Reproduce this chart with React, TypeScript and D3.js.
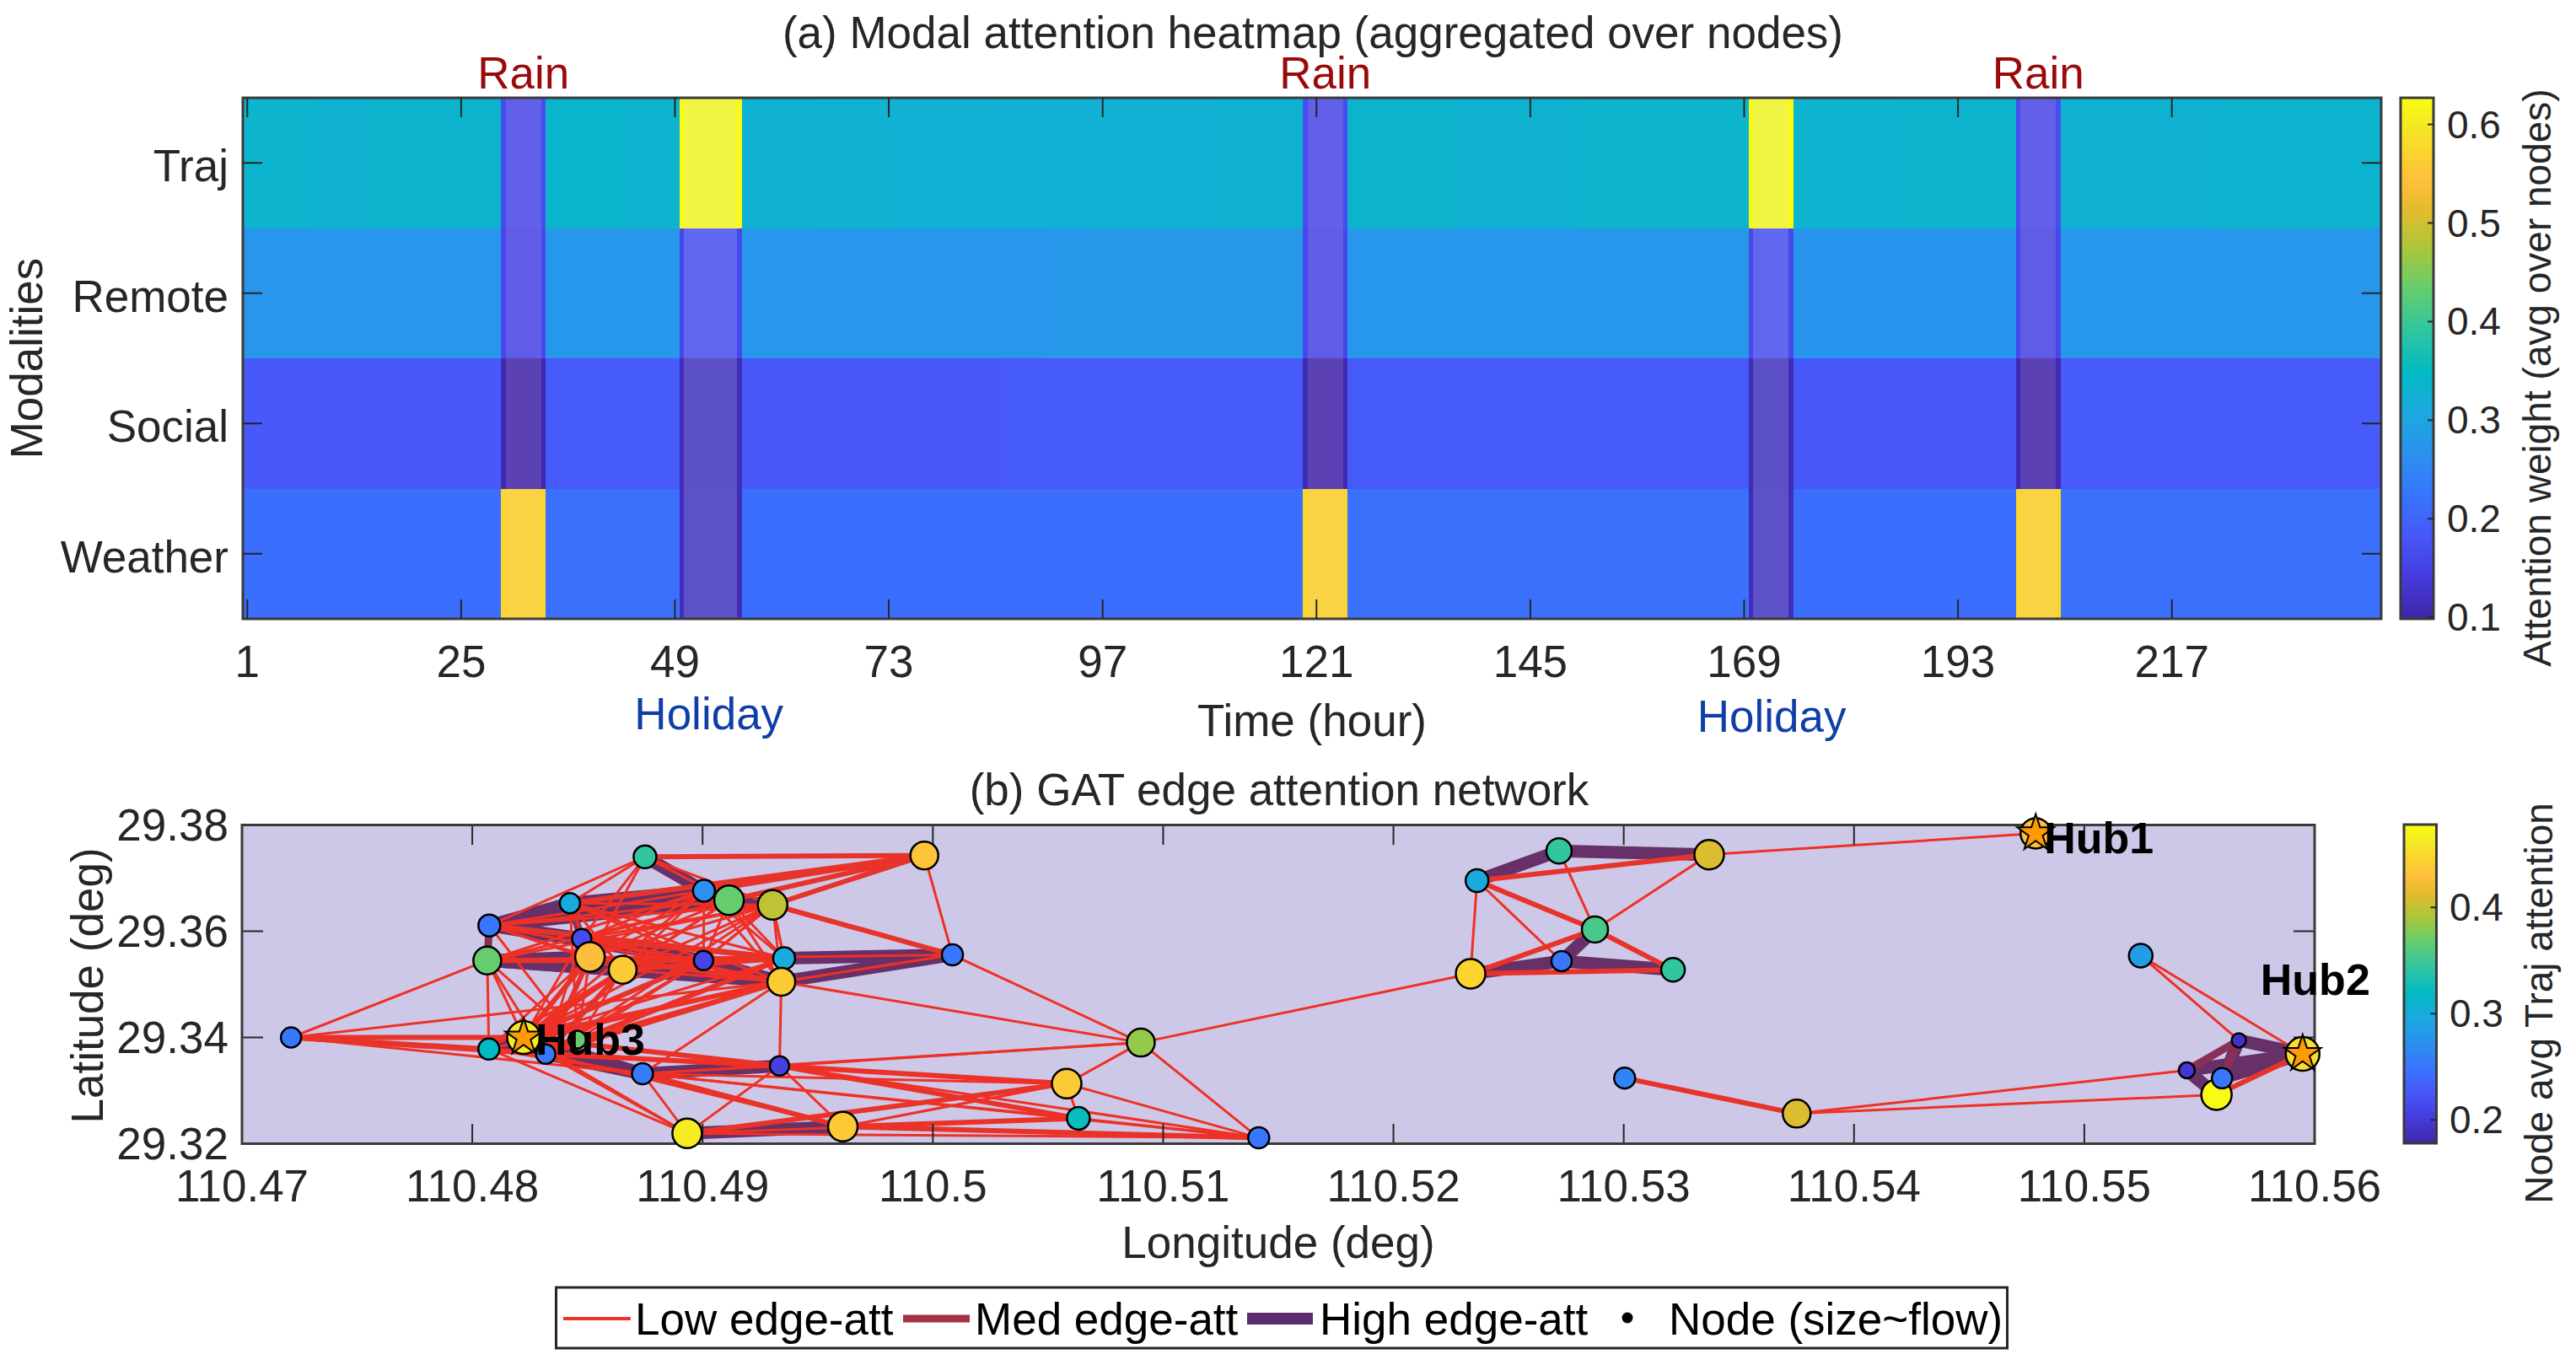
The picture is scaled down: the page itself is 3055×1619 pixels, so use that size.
import React from "react";
import * as d3 from "d3";

const modalities = ["Traj", "Remote", "Social", "Weather"];
const hourTicks = [1, 25, 49, 73, 97, 121, 145, 169, 193, 217];
const heatTicks = [0.1, 0.2, 0.3, 0.4, 0.5, 0.6];
const nodeCbTicks = [0.2, 0.3, 0.4];
const lonTicks = [110.47, 110.48, 110.49, 110.5, 110.51, 110.52, 110.53, 110.54, 110.55, 110.56];
const latTicks = [29.32, 29.34, 29.36, 29.38];
const rainSpans = [[30, 34], [120, 124], [200, 204]];
const holidaySpans = [[50, 56], [170, 174]];
// runs: [firstHour, lastHour, attention]
const trajRuns = [[1, 8, 0.334], [9, 14, 0.33], [15, 29, 0.336], [30, 34, 0.167], [35, 42, 0.337], [43, 49, 0.333], [50, 56, 0.627], [57, 64, 0.331], [65, 72, 0.329], [73, 84, 0.327], [85, 96, 0.325], [97, 110, 0.327], [111, 119, 0.33], [120, 124, 0.167], [125, 136, 0.336], [137, 150, 0.33], [151, 169, 0.334], [170, 174, 0.627], [175, 186, 0.332], [187, 199, 0.336], [200, 204, 0.167], [205, 222, 0.33], [223, 240, 0.333]];
const remoteRuns = [[1, 29, 0.274], [30, 34, 0.16], [35, 49, 0.276], [50, 56, 0.16], [57, 90, 0.274], [91, 119, 0.278], [120, 124, 0.16], [125, 169, 0.276], [170, 174, 0.16], [175, 199, 0.272], [200, 204, 0.16], [205, 240, 0.276]];
const socialRuns = [[1, 29, 0.183], [30, 34, 0.105], [35, 49, 0.186], [50, 56, 0.11], [57, 85, 0.184], [86, 119, 0.186], [120, 124, 0.105], [125, 169, 0.186], [170, 174, 0.11], [175, 199, 0.184], [200, 204, 0.105], [205, 240, 0.186]];
const weatherRuns = [[1, 29, 0.214], [30, 34, 0.575], [35, 49, 0.216], [50, 56, 0.112], [57, 119, 0.214], [120, 124, 0.575], [125, 169, 0.216], [170, 174, 0.112], [175, 199, 0.214], [200, 204, 0.575], [205, 240, 0.216]];

const nodeLon = [0, 110.47213, 110.48065, 110.48074, 110.48424, 110.48475, 110.48511, 110.48653, 110.4875, 110.49006, 110.49115, 110.49304, 110.49963, 110.49004, 110.49354, 110.49342, 110.50085, 110.48072, 110.48223, 110.48319, 110.48456, 110.48739, 110.49334, 110.48933, 110.49609, 110.50581, 110.50632, 110.50903, 110.51415, 110.52335, 110.52363, 110.52719, 110.53371, 110.52875, 110.5273, 110.53214, 110.54789, 110.55245, 110.55671, 110.55445, 110.55598, 110.55574, 110.55948, 110.53004, 110.53751];
const nodeLat = [0, 29.34, 29.35449, 29.36108, 29.36528, 29.35862, 29.35517, 29.35273, 29.374, 29.36762, 29.36582, 29.36496, 29.37426, 29.35449, 29.35491, 29.35049, 29.35555, 29.33782, 29.34, 29.33688, 29.3396, 29.33317, 29.33464, 29.32193, 29.32321, 29.3313, 29.32477, 29.33903, 29.3211, 29.35198, 29.36952, 29.37512, 29.37442, 29.36033, 29.35437, 29.35273, 29.37842, 29.35539, 29.33946, 29.33381, 29.33233, 29.32921, 29.3369, 29.33236, 29.32566];
const nodeAtt = [0, 0.25, 0.369, 0.25, 0.299, 0.216, 0.43, 0.44, 0.345, 0.272, 0.369, 0.4, 0.435, 0.21, 0.3, 0.44, 0.25, 0.321, 0.465, 0.254, 0.369, 0.255, 0.205, 0.465, 0.44, 0.44, 0.325, 0.385, 0.25, 0.447, 0.3, 0.345, 0.412, 0.355, 0.25, 0.345, 0.43, 0.285, 0.19, 0.195, 0.25, 0.477, 0.455, 0.262, 0.412];
const nodeFlow = [0, 0.35, 0.8, 0.45, 0.35, 0.3, 0.9, 0.8, 0.5, 0.45, 0.9, 0.9, 0.8, 0.3, 0.45, 0.8, 0.4, 0.4, 1.1, 0.3, 0.2, 0.4, 0.3, 0.9, 0.9, 0.9, 0.5, 0.8, 0.4, 0.9, 0.5, 0.65, 0.9, 0.7, 0.35, 0.55, 0.95, 0.55, 0.0, 0.1, 0.35, 0.95, 1.15, 0.4, 0.8];
const drawOrder = [1, 2, 3, 4, 5, 6, 7, 8, 9, 10, 11, 12, 13, 14, 15, 16, 17, 18, 19, 20, 21, 22, 23, 24, 25, 26, 27, 28, 29, 30, 31, 32, 33, 34, 35, 36, 37, 38, 39, 41, 40, 42, 43, 44];
const hubs = [{ node: 36, label: "Hub1" }, { node: 42, label: "Hub2" }, { node: 18, label: "Hub3" }];

const highEdges = [[30, 31], [31, 32], [29, 34], [34, 35], [33, 34], [38, 42], [39, 42], [39, 41], [40, 42], [38, 41], [3, 4], [3, 10], [4, 10], [4, 9], [8, 9], [10, 11], [2, 6], [2, 7], [2, 15], [6, 7], [7, 13], [13, 15], [3, 5], [14, 16], [15, 16], [17, 18], [18, 19], [19, 21], [21, 22], [23, 24], [18, 21], [3, 13], [4, 11]];
const medEdges = [[38, 39], [38, 40], [4, 5], [2, 3]];
const lowThick = [[8, 12], [9, 12], [10, 12], [11, 12], [4, 12], [11, 16], [21, 24], [30, 32], [30, 33], [29, 33], [33, 35], [29, 35], [41, 42], [43, 44], [1, 18], [1, 17], [1, 19], [24, 28], [22, 25], [22, 26], [23, 25], [24, 26], [18, 22], [19, 22], [2, 13], [2, 14], [3, 14], [6, 15], [7, 14], [5, 14], [15, 18], [15, 19], [14, 19], [7, 18], [6, 18], [6, 19], [7, 19], [13, 18]];
const lowFans = [
  [8, [10, 11, 4, 3, 5, 6]], [11, [14, 13, 15]], [12, [16]], [16, [15, 27]],
  [1, [2, 15, 21]],
  [2, [18, 17, 19, 20, 9, 10, 11, 16]],
  [3, [9, 10, 11, 15, 7, 6]],
  [4, [11, 13, 14, 15, 7, 6]],
  [5, [9, 10, 11, 13, 15, 7]],
  [6, [9, 10, 11, 13, 14]],
  [7, [9, 10, 11, 15]],
  [13, [9, 10, 11, 14]],
  [14, [9, 10, 11, 15]],
  [15, [9, 10, 21, 22, 27, 20, 17]],
  [18, [5, 14, 9, 10, 11, 23]],
  [19, [5, 13, 11, 23, 24, 25]],
  [20, [6, 7, 13, 14, 3, 4]],
  [17, [6, 7, 23, 21, 22]],
  [21, [22, 23, 25, 26, 28, 27]],
  [22, [23, 24, 28, 27]],
  [23, [26, 28]], [24, [25]], [25, [26, 27, 28]], [26, [28]], [27, [28, 29]],
  [31, [33]], [30, [34, 29]], [32, [33, 36]], [37, [38, 42]], [44, [39, 41]],
];

const parulaStops = ["#3e26a8", "#463cde", "#4758f8", "#3875fe", "#2b91ef", "#1ca9df", "#02bac3", "#31c69f", "#64cd6f", "#abc739", "#e6bb2d", "#febe3c", "#fad62d", "#f5e924", "#f9fb15"];
const parulaPos = [0, 5, 10, 15, 20, 25, 30, 35, 40, 45, 50, 53, 57, 60, 63].map((d) => d / 63);
const parula = d3.scaleLinear<string>().domain(parulaPos).range(parulaStops).interpolate(d3.interpolateRgb).clamp(true);

const FONT = "'Liberation Sans', Arial, sans-serif";
const FS = 53;
const CB_FS = 46;
const INK = "#262626";

function Box({ x0, x1, y0, y1 }: any) {
  return <rect x={x0} y={y0} width={x1 - x0} height={y1 - y0} fill="none" stroke="#3a3a3a" strokeWidth={3} />;
}

function Colorbar({ x0, x1, y0, y1, domain, ticks, fmt, labelX, titleX, titleY, title }: any) {
  const y = d3.scaleLinear().domain(domain).range([y1, y0]);
  const n = 128;
  return (
    <g>
      {d3.range(n).map((i) => {
        const t = i / (n - 1);
        const h = (y1 - y0) / n;
        return <rect key={i} x={x0} y={y1 - (i + 1) * h} width={x1 - x0} height={h + 0.8} fill={parula(t)} />;
      })}
      <Box x0={x0} x1={x1} y0={y0} y1={y1} />
      {ticks.map((t: number) => (
        <g key={t}>
          <line x1={x1 - 7} x2={x1} y1={y(t)} y2={y(t)} stroke={INK} strokeWidth={2} />
          <text x={labelX} y={y(t) + 16} fontSize={CB_FS} fill={INK}>{fmt(t)}</text>
        </g>
      ))}
      <text transform={`translate(${titleX},${titleY}) rotate(-90)`} textAnchor="middle" fontSize={CB_FS} fill={INK}>{title}</text>
    </g>
  );
}

export default function App() {
  // panel (a)
  const hx = d3.scaleLinear().domain([0.5, 240.5]).range([288, 2824]);
  const hy = d3.scaleBand<string>().domain(modalities).range([116, 734]);
  const heatColor = d3.scaleLinear().domain([0.098, 0.627]).range([0, 1]);
  const allRuns = [trajRuns, remoteRuns, socialRuns, weatherRuns];
  // panel (b)
  const nx = d3.scaleLinear().domain([110.47, 110.56]).range([287, 2745]);
  const ny = d3.scaleLinear().domain([29.32, 29.38]).range([1356.5, 978.5]);
  const radius = d3.scaleLinear().domain([0, 1]).range([8.5, 18.5]);
  const nodeColor = d3.scaleLinear().domain([0.178, 0.478]).range([0, 1]);
  const lowEdges: number[][] = [];
  lowFans.forEach(([a, list]: any) => list.forEach((b: number) => lowEdges.push([a, b])));
  const edgeLine = (e: number[], key: string, stroke: string, w: number) => (
    <line key={key} x1={nx(nodeLon[e[0]])} y1={ny(nodeLat[e[0]])} x2={nx(nodeLon[e[1]])} y2={ny(nodeLat[e[1]])} stroke={stroke} strokeWidth={w} />
  );
  const star = d3.symbol().type(d3.symbolStar).size(590)();
  const hubOffsets: any = { Hub1: [10, 24], Hub2: [-50, -70], Hub3: [14, 20] };

  return (
    <svg width={3055} height={1619} style={{ position: "absolute", left: 0, top: 0, background: "#fff" }} fontFamily={FONT}>
      {/* panel (a) */}
      <text x={1557} y={57} textAnchor="middle" fontSize={FS} fill={INK}>(a) Modal attention heatmap (aggregated over nodes)</text>
      <g shapeRendering="crispEdges">
        {modalities.map((m, r) =>
          allRuns[r].map((run, k) => (
            <rect key={m + k} x={hx(run[0] - 0.5)} y={hy(m)} width={hx(run[1] + 0.5) - hx(run[0] - 0.5) + 0.5} height={hy.bandwidth() + 0.5} fill={parula(heatColor(run[2]))} />
          ))
        )}
        {rainSpans.map((s, i) => (
          <rect key={i} x={hx(s[0])} y={116} width={hx(s[1]) - hx(s[0])} height={618} fill="rgb(255,200,200)" fillOpacity={0.15} />
        ))}
        {holidaySpans.map((s, i) => (
          <rect key={i} x={hx(s[0])} y={116} width={hx(s[1]) - hx(s[0])} height={618} fill="rgb(205,225,255)" fillOpacity={0.2} />
        ))}
      </g>
      <Box x0={288} x1={2824} y0={116} y1={734} />
      {hourTicks.map((t) => (
        <g key={t}>
          <line x1={hx(t)} x2={hx(t)} y1={734} y2={711} stroke={INK} strokeWidth={2} />
          <line x1={hx(t)} x2={hx(t)} y1={116} y2={139} stroke={INK} strokeWidth={2} />
          <text x={hx(t)} y={803} textAnchor="middle" fontSize={FS} fill={INK}>{t}</text>
        </g>
      ))}
      {modalities.map((m) => {
        const c = hy(m)! + hy.bandwidth() / 2;
        return (
          <g key={m}>
            <line x1={288} x2={311} y1={c} y2={c} stroke={INK} strokeWidth={2} />
            <line x1={2824} x2={2801} y1={c} y2={c} stroke={INK} strokeWidth={2} />
            <text x={271} y={c + 22} textAnchor="end" fontSize={FS} fill={INK}>{m}</text>
          </g>
        );
      })}
      <text transform="translate(50,425) rotate(-90)" textAnchor="middle" fontSize={FS} fill={INK}>Modalities</text>
      <text x={1556} y={873} textAnchor="middle" fontSize={FS} fill={INK}>Time (hour)</text>
      {rainSpans.map((s) => (
        <text key={s[0]} x={hx((s[0] + s[1]) / 2)} y={105} textAnchor="middle" fontSize={FS} fill="#9b0a0a">Rain</text>
      ))}
      {holidaySpans.map((s, i) => (
        <text key={s[0]} x={hx((s[0] + s[1]) / 2) - 2 + i * 3} y={865 + i * 3} textAnchor="middle" fontSize={FS} fill="#0f3fa6">Holiday</text>
      ))}
      <Colorbar x0={2847} x1={2886} y0={116} y1={734} domain={[0.0985, 0.627]} ticks={heatTicks} fmt={(t: number) => t.toFixed(1)} labelX={2902} titleX={3025} titleY={448} title="Attention weight (avg over nodes)" />

      {/* panel (b) */}
      <text x={1517} y={955} textAnchor="middle" fontSize={FS} fill={INK}>(b) GAT edge attention network</text>
      <rect x={287} y={978.5} width={2458} height={378} fill="#cdc8e8" />
      <g>
        {highEdges.map((e, i) => edgeLine(e, "h" + i, "#683068", 15))}
        {medEdges.map((e, i) => edgeLine(e, "m" + i, "#8a3058", 9))}
        {lowThick.map((e, i) => edgeLine(e, "t" + i, "#e8332a", 6))}
        {lowEdges.map((e, i) => edgeLine(e, "l" + i, "#f03024", 3))}
      </g>
      {lonTicks.map((t) => (
        <g key={t}>
          <line x1={nx(t)} x2={nx(t)} y1={1356.5} y2={1333} stroke={INK} strokeWidth={2} />
          <line x1={nx(t)} x2={nx(t)} y1={978.5} y2={1002} stroke={INK} strokeWidth={2} />
          <text x={nx(t)} y={1425} textAnchor="middle" fontSize={FS} fill={INK}>{d3.format(".10~f")(t)}</text>
        </g>
      ))}
      {latTicks.map((t) => (
        <g key={t}>
          <line x1={287} x2={312} y1={ny(t)} y2={ny(t)} stroke={INK} strokeWidth={2} />
          <line x1={2745} x2={2720} y1={ny(t)} y2={ny(t)} stroke={INK} strokeWidth={2} />
          <text x={271} y={ny(t) + 18} textAnchor="end" fontSize={FS} fill={INK}>{t.toFixed(2)}</text>
        </g>
      ))}
      <Box x0={287} x1={2745} y0={978.5} y1={1356.5} />
      {drawOrder.map((i) => (
        <circle key={i} cx={nx(nodeLon[i])} cy={ny(nodeLat[i])} r={radius(nodeFlow[i])} fill={parula(nodeColor(nodeAtt[i]))} stroke="#000" strokeWidth={2.5} />
      ))}
      {hubs.map((h) => (
        <path key={h.label} d={star!} transform={`translate(${nx(nodeLon[h.node])},${ny(nodeLat[h.node])})`} fill="#ff9a00" stroke="#000" strokeWidth={2} />
      ))}
      {hubs.map((h) => (
        <text key={h.label} x={nx(nodeLon[h.node]) + hubOffsets[h.label][0]} y={ny(nodeLat[h.node]) + hubOffsets[h.label][1]} fontSize={FS - 1} fontWeight="bold" fill="#000">{h.label}</text>
      ))}
      <text x={1516} y={1492} textAnchor="middle" fontSize={FS} fill={INK}>Longitude (deg)</text>
      <text transform="translate(122,1169) rotate(-90)" textAnchor="middle" fontSize={FS} fill={INK}>Latitude (deg)</text>
      <Colorbar x0={2851} x1={2889.5} y0={978} y1={1356} domain={[0.178, 0.478]} ticks={nodeCbTicks} fmt={(t: number) => t.toFixed(1)} labelX={2905} titleX={3027} titleY={1190} title="Node avg Traj attention" />

      {/* legend */}
      <rect x={659.5} y={1527} width={1721} height={72} fill="#fff" stroke="#262626" strokeWidth={3} />
      <line x1={668} x2={748} y1={1564} y2={1564} stroke="#ee3226" strokeWidth={4} />
      <text x={753} y={1583} fontSize={FS} fill="#000">Low edge-att</text>
      <line x1={1071} x2={1150} y1={1564} y2={1564} stroke="#a63046" strokeWidth={9} />
      <text x={1156} y={1583} fontSize={FS} fill="#000">Med edge-att</text>
      <line x1={1479} x2={1557} y1={1564} y2={1564} stroke="#5c2d6e" strokeWidth={14} />
      <text x={1565} y={1583} fontSize={FS} fill="#000">High edge-att</text>
      <circle cx={1930} cy={1563} r={6.5} fill="#000" />
      <text x={1979} y={1583} fontSize={FS} fill="#000">Node (size~flow)</text>
    </svg>
  );
}
